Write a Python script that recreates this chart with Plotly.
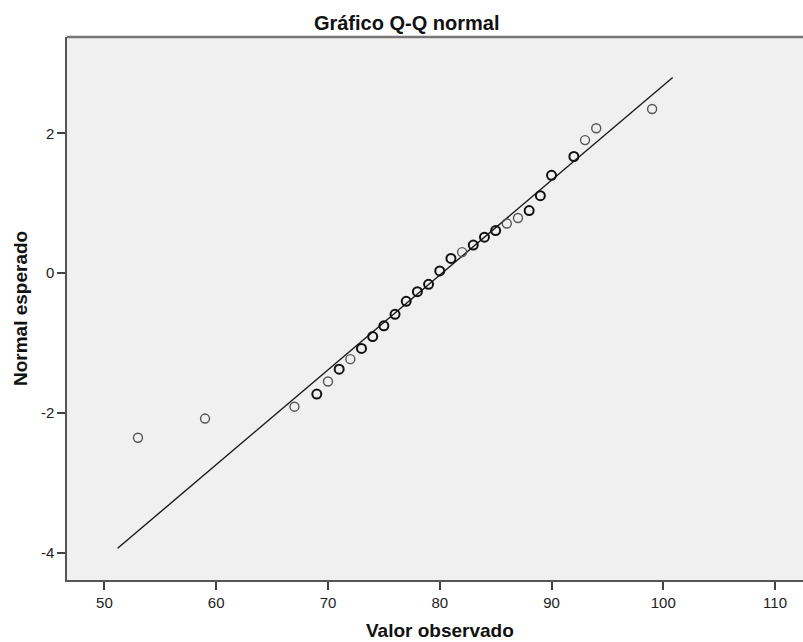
import plotly.graph_objects as go

observed = [53, 59, 67, 69, 70, 71, 72, 73, 74, 75, 76, 77, 78, 79, 80, 81, 82,
            83, 84, 85, 86, 87, 88, 89, 90, 92, 93, 94, 99]
expected = [-2.355, -2.08, -1.91, -1.73, -1.55, -1.374, -1.23, -1.077, -0.907,
            -0.753, -0.589, -0.403, -0.265, -0.159, 0.032, 0.212, 0.302, 0.403,
            0.515, 0.61, 0.711, 0.79, 0.897, 1.109, 1.40, 1.67, 1.905, 2.074, 2.35]
# number of tied cases at each observed value (ties draw darker circles)
freq = [1, 1, 1, 2, 1, 2, 1, 2, 2, 2, 2, 2, 2, 2, 2, 2, 1,
        2, 2, 2, 1, 1, 2, 2, 2, 2, 1, 1, 1]

# Reference line end points
line_x = [51.18, 100.84]
line_y = [-3.936, 2.80]

x_ticks = [50, 60, 70, 80, 90, 100, 110]
x_labels = ["50", "60", "70", "80", "90", "100", "110"]
y_ticks = [-4, -2, 0, 2]
y_labels = ["-4", "-2", "0", "2"]

font = "Liberation Sans, Arial, sans-serif"

fig = go.Figure()
fig.add_trace(go.Scatter(
    x=line_x, y=line_y, mode="lines",
    line=dict(color="#1a1a1a", width=1.4), hoverinfo="skip", showlegend=False))
fig.add_trace(go.Scatter(
    x=observed, y=expected, mode="markers",
    marker=dict(symbol="circle-open", size=9,
                color=["#111111" if f > 1 else "#555555" for f in freq],
                line=dict(width=[2.0 if f > 1 else 1.4 for f in freq])),
    showlegend=False))

fig.update_layout(
    width=803, height=642,
    margin=dict(l=66.5, r=0, t=37, b=62),
    paper_bgcolor="white", plot_bgcolor="#f0f0f0",
    font=dict(family=font, color="#222222", size=15),
    title=dict(text="<b>Gráfico Q-Q normal</b>", x=406.7 / 803, xref="container",
               xanchor="center", y=1 - 22.5 / 642, yanchor="middle",
               font=dict(family=font, size=20, color="#111111")),
)
fig.update_xaxes(
    range=[46.65, 112.5], tickvals=x_ticks, ticktext=x_labels, ticks="outside",
    ticklen=8, tickwidth=1.5, tickcolor="#444444", showgrid=False, zeroline=False,
    showline=True, linecolor="#555555", linewidth=1.5, mirror=False,
    tickfont=dict(size=15), automargin=False)
fig.update_yaxes(
    range=[-4.39, 3.38], tickvals=y_ticks, ticktext=y_labels, ticks="outside",
    ticklen=8, tickwidth=1.5, tickcolor="#444444", showgrid=False, zeroline=False,
    showline=True, linecolor="#555555", linewidth=1.5, mirror=False,
    tickfont=dict(size=15), automargin=False)

# axis titles
fig.add_annotation(text="<b>Valor observado</b>", xref="x", x=80, yref="paper", y=0,
                   yanchor="middle", yshift=-50, showarrow=False,
                   font=dict(family=font, size=19, color="#111111"))
fig.add_annotation(text="<b>Normal esperado</b>", xref="paper", x=0, xshift=-46.5,
                   xanchor="center", yref="paper", y=0.5, yanchor="middle",
                   textangle=-90, showarrow=False,
                   font=dict(family=font, size=19, color="#111111"))
# top frame line
fig.add_shape(type="line", xref="paper", yref="paper", x0=0, x1=1, y0=1, y1=1,
              line=dict(color="#777777", width=2.5))

fig.write_html("out.html", config={"displayModeBar": False},
               post_script="document.body.style.margin='0';")
